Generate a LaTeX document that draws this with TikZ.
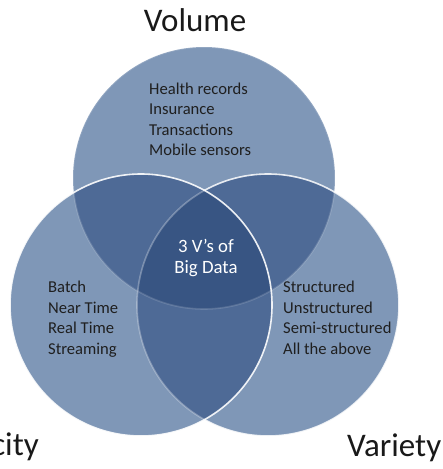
\documentclass[tikz,border=0pt]{standalone}
\usepackage{fontspec}
\setmainfont{Carlito}
\definecolor{vone}{HTML}{7F97B7}
\definecolor{vtwo}{HTML}{4E6A96}
\definecolor{vthree}{HTML}{385583}
\begin{document}
\begin{tikzpicture}[x=1pt,y=-1pt,
  listtxt/.style={font=\fontsize{16.6}{20.5}\selectfont, text=black!88, align=left, inner sep=0pt, anchor=base west},
  coretxt/.style={font=\fontsize{18.8}{21.5}\selectfont, text=white, align=center, inner sep=0pt, anchor=base},
  bigtxt/.style={font=\fontsize{33}{36}\selectfont, text=black!90, inner sep=0pt},
  ring/.style={draw=white, line width=1.6pt}]
\useasboundingbox (0,0) rectangle (443,469);
\def\R{131pt}
\coordinate (cv) at (204,178);
\coordinate (cl) at (141,305);
\coordinate (cr) at (268,305);
% single regions
\fill[vone] (cv) circle[radius=\R] (cl) circle[radius=\R] (cr) circle[radius=\R];
% double overlaps
\begin{scope}
  \clip (cv) circle[radius=\R];
  \fill[vtwo] (cl) circle[radius=\R] (cr) circle[radius=\R];
\end{scope}
\begin{scope}
  \clip (cl) circle[radius=\R];
  \fill[vtwo] (cr) circle[radius=\R];
\end{scope}
% triple overlap
\begin{scope}
  \clip (cv) circle[radius=\R];
  \clip (cl) circle[radius=\R];
  \fill[vthree] (cr) circle[radius=\R];
\end{scope}
% outlines
\draw[ring, draw opacity=0.15] (cv) circle[radius=\R];
\begin{scope}
  \clip (cl) circle[radius=\R];
  \draw[ring, draw opacity=0.3] (cr) circle[radius=\R];
\end{scope}
\begin{scope}[even odd rule]
  \clip (-20,-20) rectangle (470,490) (cl) circle[radius=\R];
  \draw[ring, draw opacity=0.85] (cr) circle[radius=\R];
\end{scope}
\draw[ring, draw opacity=0.9] (cl) circle[radius=\R];
% texts (multi-line nodes: base = baseline of last line)
\node[bigtxt, anchor=base] (tvol) at (195,31.5) {Volume};
\node[bigtxt, anchor=base east] (tvel) at (39,455.5) {Velocity};
\node[bigtxt, anchor=base west] (tvar) at (347,456) {Variety};
\node[listtxt] (lvol) at (149,155.8) {Health records\\Insurance\\Transactions\\Mobile sensors};
\node[listtxt] (lvel) at (48,354) {Batch\\Near Time\\Real Time\\Streaming};
\node[listtxt] (lvar) at (283,354) {Structured\\Unstructured\\Semi-structured\\All the above};
\node[coretxt] (lcore) at (206,273.5) {3 V’s of\\Big Data};
\end{tikzpicture}
\end{document}
